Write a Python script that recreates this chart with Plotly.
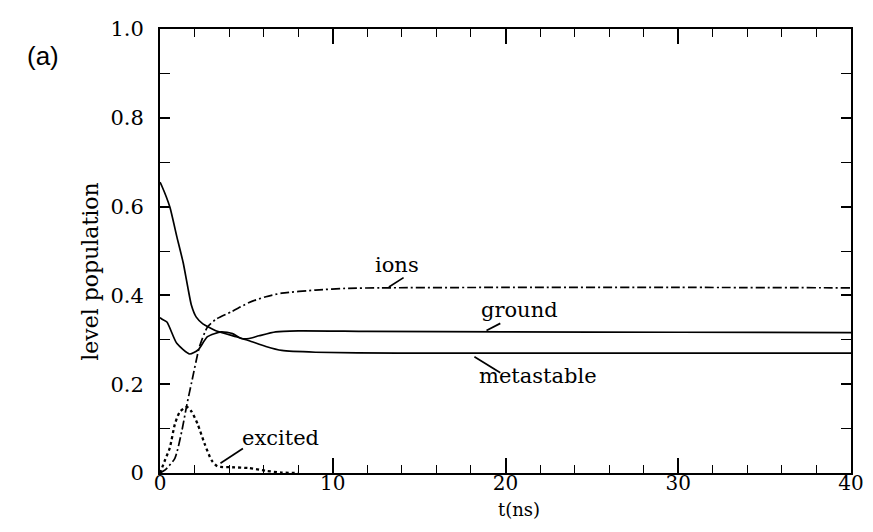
import plotly.graph_objects as go

# data
t_meta = [0, 0.1, 0.57, 0.97, 1.34, 1.62, 1.81, 2.1, 2.48, 3.27, 4.41, 5.16, 6.13, 7.05, 9.0, 13.75, 20, 30, 40]
y_meta = [0.655, 0.647, 0.599, 0.533, 0.474, 0.416, 0.379, 0.351, 0.336, 0.320, 0.307, 0.298, 0.285, 0.276, 0.272, 0.270, 0.270, 0.270, 0.270]

t_ground = [0, 0.1, 0.4, 0.97, 1.72, 2.2, 2.75, 3.55, 4.2, 4.7, 5.16, 5.73, 6.7, 8.0, 12, 20, 30, 40]
y_ground = [0.35, 0.347, 0.34, 0.292, 0.268, 0.277, 0.307, 0.318, 0.314, 0.303, 0.303, 0.309, 0.318, 0.320, 0.319, 0.318, 0.317, 0.316]

t_ions = [0, 0.3, 0.86, 1.26, 1.55, 1.83, 2.29, 2.75, 3.27, 4.18, 5.16, 6.13, 7.05, 9.0, 10.9, 12.8, 20, 30, 40]
y_ions = [0.0, 0.007, 0.033, 0.094, 0.153, 0.204, 0.285, 0.329, 0.347, 0.364, 0.384, 0.397, 0.405, 0.412, 0.416, 0.417, 0.418, 0.418, 0.417]

t_exc = [0, 0.3, 0.57, 0.86, 1.15, 1.55, 1.83, 2.18, 2.58, 2.98, 3.32, 4.18, 5.16, 6.1, 7.05, 8.0]
y_exc = [0.0, 0.03, 0.057, 0.11, 0.138, 0.149, 0.138, 0.11, 0.066, 0.029, 0.015, 0.013, 0.011, 0.005, 0.001, 0.0]

x_ticks = [0, 10, 20, 30, 40]
y_ticks = [0, 0.2, 0.4, 0.6, 0.8, 1.0]
y_ticktext = ["0", "0.2", "0.4", "0.6", "0.8", "1.0"]

# labels: (text, x, y, leader start (x,y), leader end (x,y))
labels = [
    ("ions", 13.7, 0.469, (13.25, 0.419), (14.1, 0.44)),
    ("ground", 20.8, 0.368, (18.9, 0.321), (19.7, 0.337)),
    ("metastable", 21.9, 0.219, (18.2, 0.262), (19.7, 0.226)),
    ("excited", 7.0, 0.078, (3.5, 0.022), (4.8, 0.055)),
]

serif = "DejaVu Serif"
fig = go.Figure()
line_common = dict(color="black", width=1.7)
fig.add_trace(go.Scatter(x=t_meta, y=y_meta, mode="lines", line=dict(**line_common, shape="spline", smoothing=0.5)))
fig.add_trace(go.Scatter(x=t_ground, y=y_ground, mode="lines", line=dict(**line_common, shape="spline", smoothing=0.6)))
fig.add_trace(go.Scatter(x=t_ions, y=y_ions, mode="lines", line=dict(color="black", width=1.7, dash="9px,3px,2px,3px", shape="spline", smoothing=0.6)))
fig.add_trace(go.Scatter(x=t_exc, y=y_exc, mode="lines", line=dict(color="black", width=2.3, dash="dot", shape="spline", smoothing=0.6)))

for txt, lx, ly, (x0, y0), (x1, y1) in labels:
    fig.add_annotation(x=lx, y=ly, text=txt, showarrow=False, xanchor="center", yanchor="middle",
                       font=dict(family=serif, size=21, color="black"))
    fig.add_shape(type="line", x0=x0, y0=y0, x1=x1, y1=y1, line=dict(color="black", width=1.7))

# page offset of the figure (default body margin)
OFF = 8
fig.add_annotation(x=75 - OFF, y=266 - OFF, text="level population", showarrow=False,
                   textangle=-90, font=dict(family=serif, size=22, color="black"))
fig.add_annotation(x=523 - OFF, y=523 - OFF, text="t(ns)", showarrow=False, font=dict(family=serif, size=18, color="black"))
fig.add_annotation(x=24 - OFF, y=27 - OFF, text="(a)", showarrow=False, font=dict(family="Liberation Sans", size=26, color="black"))

W, H = 873 - OFF, 532 - OFF
L, T = 160 - OFF, 17 - OFF
R = W - (858 - OFF)
B = H - (473 - OFF)
pw, ph = W - L - R, H - T - B
for a in fig.layout.annotations[-3:]:
    a.xref = "paper"; a.yref = "paper"
    px, py = a.x, a.y
    a.x = (px - L) / pw
    a.y = (H - B - py) / ph

fig.update_layout(
    width=W, height=H, margin=dict(l=L, r=R, t=T, b=B),
    plot_bgcolor="white", paper_bgcolor="white", showlegend=False,
    xaxis=dict(range=[0, 40], tickvals=x_ticks, ticks="inside", ticklen=15, tickwidth=1.6, tickcolor="black",
               showline=True, linecolor="black", linewidth=2, mirror="ticks", showgrid=False, zeroline=False,
               tickfont=dict(family=serif, size=20, color="black"), ticklabelstandoff=-9, ticklabeloverflow="allow",
               minor=dict(dtick=2, ticks="inside", ticklen=8, tickwidth=1.4, tickcolor="black", showgrid=False)),
    yaxis=dict(range=[0, 1.0], tickvals=y_ticks, ticktext=y_ticktext, ticks="inside", ticklen=10, tickwidth=1.6,
               tickcolor="black", showline=True, linecolor="black", linewidth=2, mirror="ticks", showgrid=False,
               zeroline=False, tickfont=dict(family=serif, size=21, color="black"), ticklabelstandoff=10,
               ticklabeloverflow="allow",
               minor=dict(dtick=0.1, ticks="inside", ticklen=10, tickwidth=1.4, tickcolor="black", showgrid=False)),
)
fig.write_html("out.html")
